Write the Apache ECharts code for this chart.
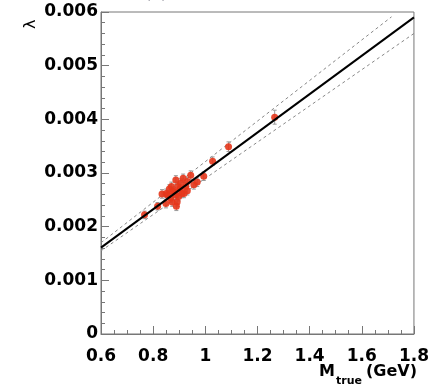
<!DOCTYPE html>
<html>
<head>
<meta charset="utf-8">
<script src="https://cdn.jsdelivr.net/npm/echarts@6/dist/echarts.min.js"></script>
<style>
html,body{margin:0;padding:0;background:#fff;}
#chart{width:432px;height:386px;}
</style>
</head>
<body>
<div id="chart"></div>
<script>
// Data
const mTrue = [0.767, 0.817, 0.834, 0.849, 0.850, 0.855, 0.862, 0.867, 0.870, 0.873, 0.876, 0.880, 0.885, 0.887, 0.889, 0.892, 0.895, 0.898, 0.903, 0.906, 0.910, 0.915, 0.918, 0.925, 0.931, 0.931, 0.944, 0.956, 0.969, 0.994, 1.028, 1.089, 1.266];
const lambda = [0.00222, 0.00238, 0.00261, 0.00243, 0.00262, 0.00259, 0.00270, 0.00253, 0.00275, 0.00246, 0.00266, 0.00265, 0.00259, 0.00287, 0.00238, 0.00246, 0.00275, 0.00256, 0.00270, 0.00281, 0.00262, 0.00290, 0.00262, 0.00275, 0.00284, 0.00267, 0.00296, 0.00278, 0.00283, 0.00294, 0.00322, 0.00349, 0.00404];
const lambdaErr = [0.00007, 0.00007, 0.00008, 0.00008, 0.00008, 0.00008, 0.00008, 0.00008, 0.00008, 0.00008, 0.00008, 0.00008, 0.00008, 0.00008, 0.00008, 0.00008, 0.00008, 0.00008, 0.00008, 0.00008, 0.00008, 0.00008, 0.00008, 0.00008, 0.00008, 0.00008, 0.00008, 0.00008, 0.00008, 0.00008, 0.00008, 0.00009, 0.00013];
const fitLine = [[0.6, 0.00161], [1.8, 0.00590]];
const upperBand = [[0.6, 0.00170], [1.714, 0.00591]];
const lowerBand = [[0.6, 0.00155], [1.8, 0.00560]];
const xTicks = [0.6, 0.8, 1.0, 1.2, 1.4, 1.6, 1.8];
const yTicks = [0, 0.001, 0.002, 0.003, 0.004, 0.005, 0.006];

const points = mTrue.map((x, i) => [x, lambda[i], lambdaErr[i]]);

const chart = echarts.init(document.getElementById('chart'), null, {renderer: 'canvas'});
const labelFont = {fontFamily: 'DejaVu Sans', fontWeight: 'bold', fontSize: 17, color: '#000'};
const axisCol = '#777';

chart.setOption({
  animation: false,
  backgroundColor: '#fff',
  grid: {left: 101, right: 15, top: 12, bottom: 52, show: true, borderColor: axisCol, borderWidth: 1, backgroundColor: 'transparent'},
  xAxis: {
    type: 'value', min: xTicks[0], max: xTicks[xTicks.length - 1], interval: 0.2,
    axisLine: {show: true, lineStyle: {color: axisCol, width: 1}},
    axisTick: {show: true, inside: true, length: 8, lineStyle: {color: axisCol}},
    minorTick: {show: true, splitNumber: 4, length: 4, lineStyle: {color: axisCol}},
    splitLine: {show: false},
    axisLabel: Object.assign({margin: 14, formatter: v => String(Math.round(v * 10) / 10)}, labelFont)
  },
  yAxis: {
    type: 'value', min: yTicks[0], max: yTicks[yTicks.length - 1], interval: 0.001,
    axisLine: {show: true, lineStyle: {color: axisCol, width: 1}},
    axisTick: {show: true, inside: true, length: 8, lineStyle: {color: axisCol}},
    minorTick: {show: true, splitNumber: 5, length: 4, lineStyle: {color: axisCol}},
    splitLine: {show: false},
    axisLabel: Object.assign({margin: 3, padding: [8, 0, 0, 0], formatter: v => v === 0 ? '0' : v.toFixed(3)}, labelFont)
  },
  series: [
    {
      type: 'line', data: upperBand, symbol: 'none', clip: true, z: 2,
      lineStyle: {color: '#888', width: 1, type: [3, 3]}
    },
    {
      type: 'line', data: lowerBand, symbol: 'none', clip: true, z: 2,
      lineStyle: {color: '#888', width: 1, type: [3, 3]}
    },
    {
      type: 'custom', data: points, z: 3, clip: true,
      renderItem: function (params, api) {
        const x = api.value(0), y = api.value(1), e = api.value(2);
        const t = api.coord([x, y + e]);
        const b = api.coord([x, y - e]);
        const st = {stroke: '#999', lineWidth: 1};
        return {type: 'group', children: [
          {type: 'line', shape: {x1: t[0], y1: t[1], x2: b[0], y2: b[1]}, style: st},
          {type: 'line', shape: {x1: t[0] - 2, y1: t[1], x2: t[0] + 2, y2: t[1]}, style: st},
          {type: 'line', shape: {x1: b[0] - 2, y1: b[1], x2: b[0] + 2, y2: b[1]}, style: st}
        ]};
      }
    },
    {
      type: 'scatter', data: points.map(p => [p[0], p[1]]), symbol: 'circle', symbolSize: 7, z: 4,
      itemStyle: {color: '#e5361b', opacity: 0.9}
    },
    {
      type: 'line', data: fitLine, symbol: 'none', clip: true, z: 5,
      lineStyle: {color: '#000', width: 2}
    }
  ],
  graphic: [
    {type: 'text', x: 31, y: 29, rotation: Math.PI / 2,
     style: {text: 'λ', fontFamily: 'DejaVu Sans', fontSize: 16, fill: '#000', align: 'left', verticalAlign: 'middle'}},
    {type: 'text', x: 145, y: -6,
     style: {text: '(a)', fontFamily: 'DejaVu Sans', fontSize: 16, fill: '#556', verticalAlign: 'middle'}},
    {type: 'text', x: 319, y: 372,
     style: {text: 'M', fontFamily: 'DejaVu Sans', fontWeight: 'bold', fontSize: 16, fill: '#000', verticalAlign: 'middle'}},
    {type: 'text', x: 336, y: 381,
     style: {text: 'true', fontFamily: 'DejaVu Sans', fontWeight: 'bold', fontSize: 11, fill: '#000', verticalAlign: 'middle'}},
    {type: 'text', x: 417, y: 372,
     style: {text: '(GeV)', fontFamily: 'DejaVu Sans', fontWeight: 'bold', fontSize: 16, fill: '#000', align: 'right', verticalAlign: 'middle'}}
  ]
});
</script>
</body>
</html>
